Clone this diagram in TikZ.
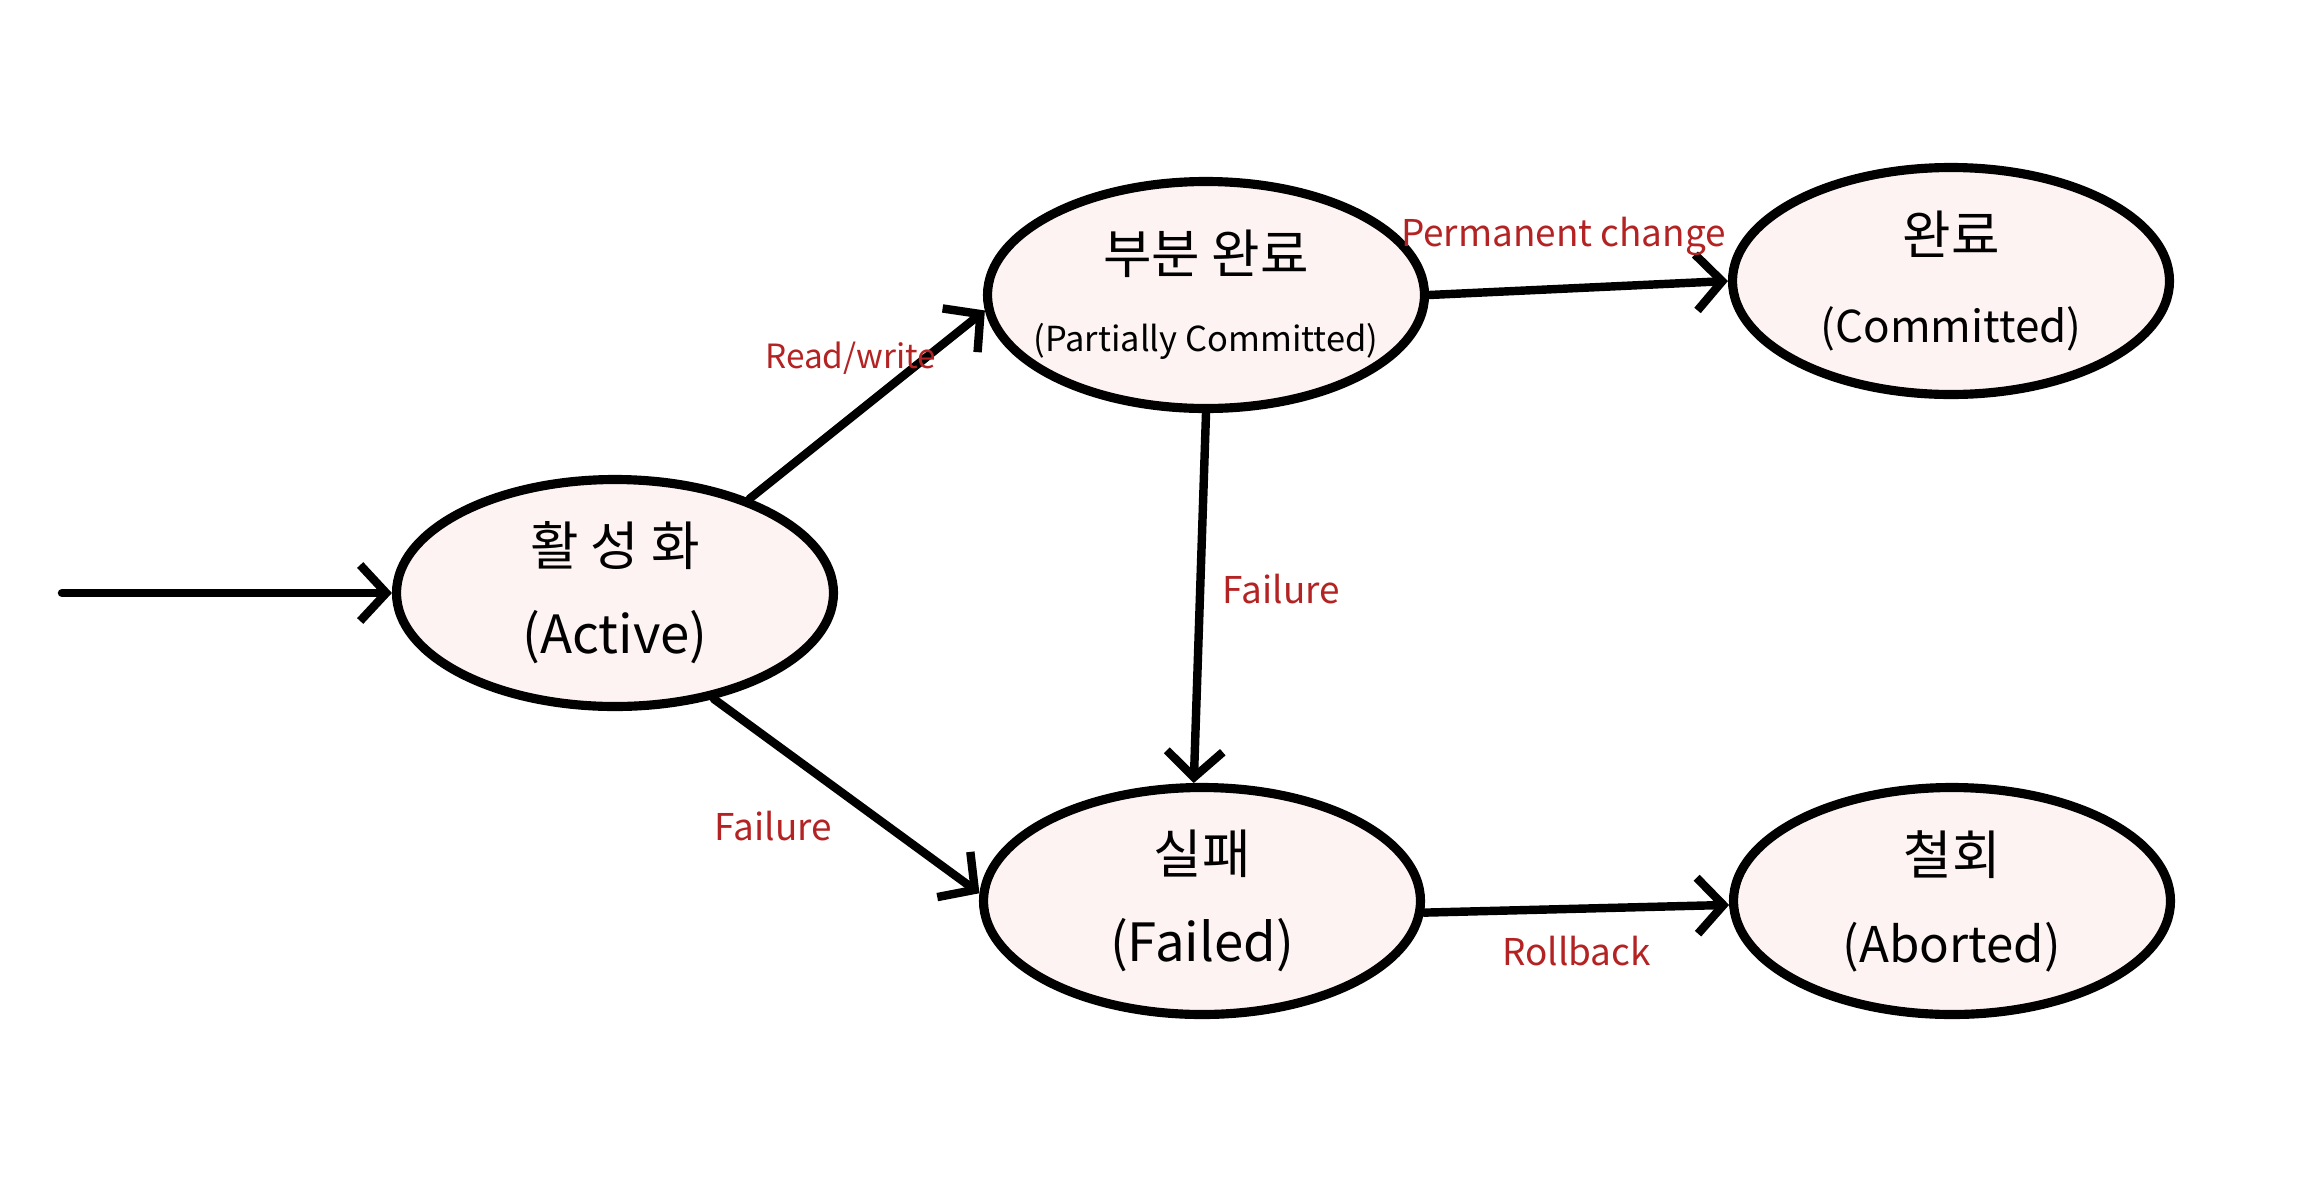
\documentclass[tikz,border=0pt]{standalone}
\usepackage{fontspec}
\setmainfont{Noto Sans CJK KR}
\usepackage{tikz}
\usetikzlibrary{arrows.meta, positioning, calc, shapes.geometric}
\definecolor{statefill}{RGB}{253,243,243}
\definecolor{lblred}{RGB}{180,35,35}
\tikzset{
    state/.style={draw, ellipse, line width=2.6pt, fill=statefill, minimum width=4.37cm,
        minimum height=2.27cm, inner sep=0pt, align=center, font=\fontsize{15}{25}\selectfont},
    trans/.style={-{Straight Barb[length=2.6mm, width=5.6mm]}, line width=2.4pt, line cap=round},
    lbl/.style={font=\fontsize{10.5}{13}\selectfont, text=lblred, inner sep=1pt},
}
\begin{document}
\begin{tikzpicture}
        \useasboundingbox (0,0) rectangle (22.98,11.85);

        % States
        \node[state] (act)   at (6.15,5.92)  {활 성 화\\(Active)};
        \node[state, inner xsep=-4mm] (part) at (12.06,8.90) {부분 완료\\[-1mm]{\fontsize{9.8}{25}\selectfont (Partially Committed)}};
        \node[state] (comm)  at (19.51,9.04) {완료\\{\fontsize{12.5}{25}\selectfont (Committed)}};
        \node[state] (fail)  at (12.02,2.84) {실패\\(Failed)};
        \node[state] (abort) at (19.52,2.84) {철회\\{\fontsize{14}{25}\selectfont (Aborted)}};

        \coordinate (start) at (0.62,5.92);

        % Transitions
        \draw[trans] (start) -- (act);
        \draw[trans] (act.35) -- node[lbl, pos=0.43, yshift=6mm, font=\fontsize{9.5}{12}\selectfont] {Read/write} (part.184);
        \draw[trans] (act.-47) -- node[lbl, pos=0.5, below left=1mm] {Failure} (fail.178);
        \draw[trans] (part.south) -- node[lbl, pos=0.475, right=1.5mm] {Failure} (fail.94);
        \draw[trans] (part.east) -- node[lbl, midway, above=2.5mm, xshift=-1.5mm] {Permanent change} (comm.west);
        \draw[trans] (fail.-3) -- node[lbl, midway, below=2mm] {Rollback} (abort.181);
    \end{tikzpicture}
\end{document}
